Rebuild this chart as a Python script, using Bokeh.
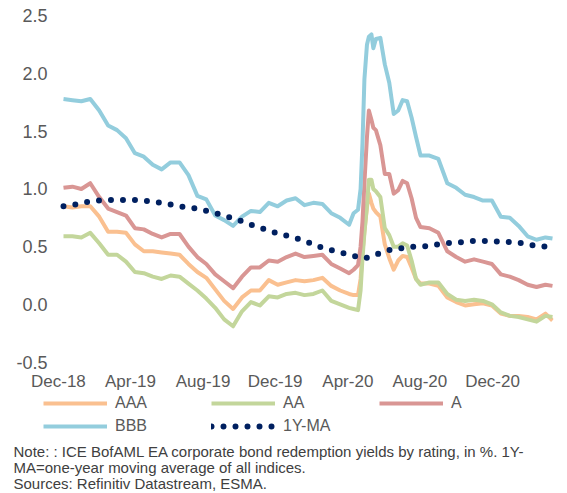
import pandas as pd
from bokeh.plotting import figure
from bokeh.layouts import column
from bokeh.models import Range1d, FixedTicker, Legend, LegendItem, Label, NumeralTickFormatter
from bokeh.embed import file_html
from bokeh.resources import INLINE

# ---- data ----
dates = [
    "2018-12-03", "2018-12-17", "2018-12-31", "2019-01-14", "2019-01-28", "2019-02-11", "2019-02-25",
    "2019-03-11", "2019-03-25", "2019-04-08", "2019-04-22", "2019-05-06", "2019-05-20", "2019-06-03",
    "2019-06-17", "2019-07-01", "2019-07-15", "2019-07-29", "2019-08-12", "2019-08-26", "2019-09-09",
    "2019-09-23", "2019-10-07", "2019-10-21", "2019-11-04", "2019-11-18", "2019-12-02", "2019-12-16",
    "2019-12-30", "2020-01-13", "2020-01-27", "2020-02-10", "2020-02-24",
    "2020-03-02", "2020-03-09", "2020-03-13", "2020-03-16", "2020-03-19", "2020-03-23", "2020-03-26",
    "2020-03-30", "2020-04-02", "2020-04-06", "2020-04-13", "2020-04-20", "2020-04-27", "2020-05-04",
    "2020-05-11", "2020-05-18", "2020-05-25", "2020-06-01", "2020-06-08", "2020-06-15",
    "2020-06-29", "2020-07-13", "2020-07-27", "2020-08-10", "2020-08-24", "2020-09-07", "2020-09-21",
    "2020-10-05", "2020-10-19", "2020-11-02", "2020-11-16", "2020-11-30", "2020-12-14", "2020-12-28",
    "2021-01-08",
]

aaa = [0.85, 0.84, 0.85, 0.85, 0.76, 0.63, 0.63, 0.62, 0.52, 0.46, 0.46, 0.45, 0.44, 0.43, 0.35,
       0.28, 0.23, 0.13, 0.03, -0.04, 0.06, 0.12, 0.12, 0.21, 0.17, 0.19, 0.21, 0.20, 0.21, 0.23,
       0.16, 0.12, 0.09,
       0.08, 0.08, 0.22, 0.45, 0.63, 0.84, 0.96, 0.88, 0.83, 0.80, 0.76, 0.52, 0.40, 0.30, 0.38,
       0.42, 0.41, 0.32, 0.22, 0.18,
       0.18, 0.16, 0.06, 0.02, -0.01, 0.00, 0.01, -0.01, -0.08, -0.10, -0.10, -0.11, -0.13, -0.08, -0.14]

aa = [0.59, 0.59, 0.58, 0.62, 0.53, 0.43, 0.43, 0.37, 0.28, 0.27, 0.24, 0.22, 0.25, 0.24, 0.18,
      0.12, 0.05, -0.03, -0.13, -0.19, -0.06, 0.02, -0.01, 0.07, 0.06, 0.09, 0.10, 0.08, 0.09, 0.12,
      0.03, 0.00, -0.03,
      -0.04, -0.05, 0.12, 0.40, 0.62, 0.86, 1.08, 1.08, 1.00, 0.98, 0.93, 0.66, 0.60, 0.50, 0.50,
      0.53, 0.51, 0.38, 0.22, 0.17,
      0.19, 0.19, 0.09, 0.04, 0.03, 0.04, 0.03, 0.00, -0.07, -0.10, -0.11, -0.13, -0.15, -0.10, -0.11]

a = [1.01, 1.02, 1.00, 1.05, 0.93, 0.83, 0.80, 0.77, 0.66, 0.65, 0.61, 0.58, 0.61, 0.61, 0.50,
     0.41, 0.35, 0.26, 0.20, 0.14, 0.24, 0.32, 0.32, 0.38, 0.37, 0.41, 0.44, 0.41, 0.42, 0.43,
     0.35, 0.31, 0.27,
     0.30, 0.34, 0.50, 0.72, 1.05, 1.45, 1.68, 1.60, 1.53, 1.51, 1.38, 1.13, 1.13, 0.96, 0.99,
     1.07, 1.05, 0.92, 0.75, 0.67,
     0.66, 0.62, 0.46, 0.41, 0.37, 0.39, 0.37, 0.35, 0.26, 0.24, 0.21, 0.17, 0.15, 0.17, 0.16]

bbb = [1.78, 1.77, 1.76, 1.78, 1.68, 1.55, 1.51, 1.44, 1.31, 1.28, 1.21, 1.17, 1.23, 1.23, 1.12,
       0.94, 0.91, 0.77, 0.73, 0.68, 0.76, 0.81, 0.80, 0.88, 0.85, 0.90, 0.92, 0.86, 0.88, 0.87,
       0.79, 0.75, 0.69,
       0.79, 0.82, 1.00, 1.40, 1.95, 2.25, 2.32, 2.34, 2.22, 2.30, 2.31, 2.08, 1.92, 1.65, 1.68,
       1.77, 1.76, 1.62, 1.45, 1.29,
       1.29, 1.26, 1.05, 1.01, 0.95, 0.93, 0.90, 0.90, 0.76, 0.75, 0.68, 0.59, 0.56, 0.58, 0.57]

ma_1y = [0.85, 0.86, 0.88, 0.89, 0.90, 0.905, 0.905, 0.905, 0.905, 0.90, 0.89, 0.88, 0.865, 0.85,
         0.84, 0.83, 0.81, 0.79, 0.77, 0.745, 0.72, 0.69, 0.665, 0.64, 0.615, 0.595, 0.575, 0.55,
         0.52, 0.49, 0.47, 0.45, 0.43,
         0.42, 0.41, 0.405, 0.40, 0.40, 0.405, 0.41, 0.415, 0.42, 0.43, 0.445, 0.46, 0.47, 0.475,
         0.48, 0.49, 0.495, 0.50, 0.50, 0.50,
         0.505, 0.52, 0.53, 0.535, 0.54, 0.55, 0.55, 0.55, 0.54, 0.54, 0.535, 0.52, 0.505, 0.50, 0.50]

tick_labels = ["Dec-18", "Apr-19", "Aug-19", "Dec-19", "Apr-20", "Aug-20", "Dec-20"]
tick_days = [-8, 105, 219, 332, 446, 559, 673]
y_ticks = [-0.5, 0.0, 0.5, 1.0, 1.5, 2.0, 2.5]

series_names = ["AAA", "AA", "A", "BBB"]
series_colors = ["#FAC090", "#C3D69B", "#D99694", "#93CDDD"]
ma_name = "1Y-MA"
ma_color = "#002060"

notes = [
    "Note: : ICE BofAML EA corporate bond redemption yields by rating, in %. 1Y-",
    "MA=one-year moving average of all indices.",
    "Sources: Refinitiv Datastream, ESMA.",
]

# ---- build ----
d = pd.to_datetime(dates)
x = [int(v) for v in (d - d[0]).days]

FONT = "Liberation Sans"
W = 567
H_MAIN = 393
H_FOOT = 100
NAN = float("nan")

p = figure(width=W, height=H_MAIN, output_backend="svg", toolbar_location=None,
           x_range=Range1d(-9.41, 768.6), y_range=Range1d(-0.556, 2.599),
           min_border_left=57, min_border_right=14, min_border_top=4, min_border_bottom=23)
p.frame_align = False
p.outline_line_color = None
p.grid.visible = False

line_style = dict(line_width=4, line_join="round")
ma_style = dict(line_color=ma_color, line_width=6, line_dash="0 12", line_cap="round")

for vals, col in zip([aaa, aa, a, bbb], series_colors):
    p.line(x, vals, line_color=col, **line_style)
p.line(x, ma_1y, **ma_style)

for ax in (p.xaxis[0], p.yaxis[0]):
    ax.axis_line_color = None
    ax.major_tick_line_color = None
    ax.minor_tick_line_color = None
    ax.major_tick_out = 0
    ax.major_tick_in = 0
    ax.major_label_text_color = "#595959"
    ax.major_label_text_font = FONT

p.xaxis.ticker = FixedTicker(ticks=tick_days)
p.xaxis.major_label_overrides = {t: l for t, l in zip(tick_days, tick_labels)}
p.xaxis.major_label_text_font_size = "17px"
p.xaxis.major_label_standoff = 3

p.yaxis.ticker = FixedTicker(ticks=y_ticks)
p.yaxis.formatter = NumeralTickFormatter(format="0.0")
p.yaxis.major_label_text_font_size = "18px"
p.yaxis.major_label_standoff = 10

# ---- footer: legend + notes ----
f = figure(width=W, height=H_FOOT, output_backend="svg", toolbar_location=None,
           x_range=Range1d(0, W), y_range=Range1d(0, H_FOOT),
           x_axis_type=None, y_axis_type=None,
           min_border_left=0, min_border_right=0, min_border_top=0, min_border_bottom=0)
f.frame_align = False
f.outline_line_color = None

# legend sample renderers (no visible data, they only carry the line styles)
leg_renderers = [f.line([NAN], [NAN], line_color=c, **line_style) for c in series_colors]
leg_renderers.append(f.line([NAN], [NAN], **ma_style))
items = [LegendItem(label=n, renderers=[r])
         for n, r in zip(series_names + [ma_name], leg_renderers)]
legend = Legend(items=items, ncols=3, orientation="horizontal", location=(43, 57),
                glyph_width=64, glyph_height=20, label_height=20, label_width=93,
                label_standoff=8, spacing=3, padding=0, margin=0,
                border_line_color=None, background_fill_alpha=0,
                label_text_font_size="16px", label_text_color="#595959", label_text_font=FONT)
f.add_layout(legend)

for i, t in enumerate(notes):
    f.add_layout(Label(x=13, y=42 - 16 * i, x_units="screen", y_units="screen", text=t,
                       text_font=FONT, text_font_size="15px", text_color="#404040",
                       text_baseline="alphabetic"))

layout = column(p, f, spacing=0)
open("out.html", "w").write(file_html(layout, INLINE))
